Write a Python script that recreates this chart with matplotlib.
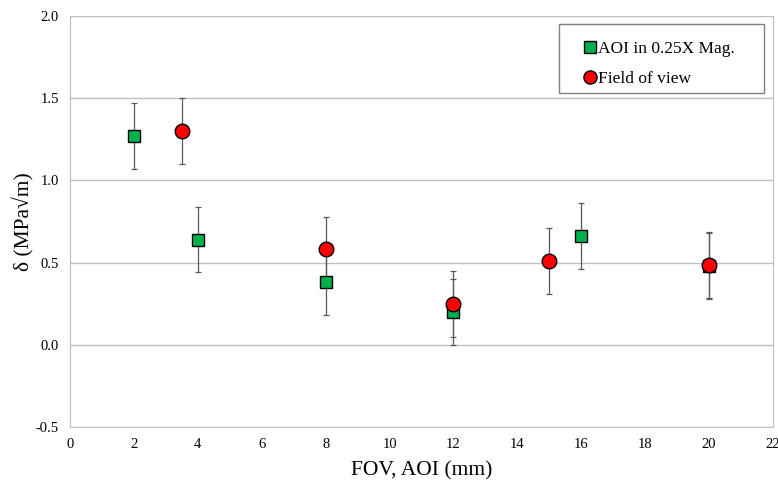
import matplotlib

matplotlib.use("Agg")
import matplotlib.pyplot as plt
from matplotlib.patches import Rectangle

# AOI in 0.25X magnification
aoi_x = [2, 4, 8, 12, 16, 20]
aoi_y = [1.27, 0.64, 0.38, 0.20, 0.66, 0.48]
aoi_err = [0.2, 0.2, 0.2, 0.2, 0.2, 0.2]

# field of view
fov_x = [3.5, 8, 12, 15, 20]
fov_y = [1.30, 0.58, 0.25, 0.51, 0.485]
fov_err = [0.2, 0.2, 0.2, 0.2, 0.2]

x_ticks = [0, 2, 4, 6, 8, 10, 12, 14, 16, 18, 20, 22]
y_ticks = [-0.5, 0.0, 0.5, 1.0, 1.5, 2.0]

plt.rcParams["font.family"] = ["Liberation Serif", "DejaVu Serif"]

fig = plt.figure(figsize=(7.78, 4.88), dpi=100)
ax = fig.add_axes([70 / 778, 1 - 427 / 488, 703 / 778, 411 / 488])

ax.errorbar(aoi_x, aoi_y, yerr=aoi_err, fmt="none", ecolor="#595959",
            elinewidth=0.9, capsize=2.2, capthick=0.9, zorder=2)
ax.errorbar(fov_x, fov_y, yerr=fov_err, fmt="none", ecolor="#595959",
            elinewidth=0.9, capsize=2.2, capthick=0.9, zorder=2)
ax.plot(aoi_x, aoi_y, ls="none", marker="s", ms=9, mfc="#00b050",
        mec="black", mew=1.0, label="AOI in 0.25X Mag.", zorder=3)
ax.plot(fov_x, fov_y, ls="none", marker="o", ms=10.5, mfc="#ff0000",
        mec="black", mew=1.0, label="Field of view", zorder=4)

ax.set_xlim(0, 22)
ax.set_ylim(-0.5, 2.0)
ax.set_xticks(x_ticks)
ax.set_yticks(y_ticks)
ax.set_yticklabels([f"{v:.1f}" for v in y_ticks])
ax.tick_params(length=0, labelsize=10.5, pad=8)
ax.grid(True, axis="y", color="#bfbfbf", lw=1.0)
ax.set_axisbelow(True)
for side in ("left", "bottom", "right"):
    ax.spines[side].set_color("#bfbfbf")
ax.spines["top"].set_visible(False)

ax.set_xlabel("FOV, AOI (mm)", fontsize=15.5, labelpad=7)
ax.set_ylabel("δ (MPa√m)", fontsize=15.5, labelpad=1)

# legend entries without frame; the box is drawn separately so the
# entries can sit low in it like the original
ax.legend(loc="upper left", bbox_to_anchor=(0.6956, 0.5, 0.2916, 0.4659),
          mode="expand", fontsize=12.5, frameon=False,
          handletextpad=-0.69, handlelength=2.3, labelspacing=0.8,
          borderpad=0.65, borderaxespad=0.0, markerscale=0.9)
ax.add_patch(Rectangle((0.6956, 0.8127), 0.2916, 0.1679, transform=ax.transAxes,
                       facecolor="white", edgecolor="#7f7f7f", lw=1.0, zorder=5))

fig.savefig("out.png", dpi=100)
